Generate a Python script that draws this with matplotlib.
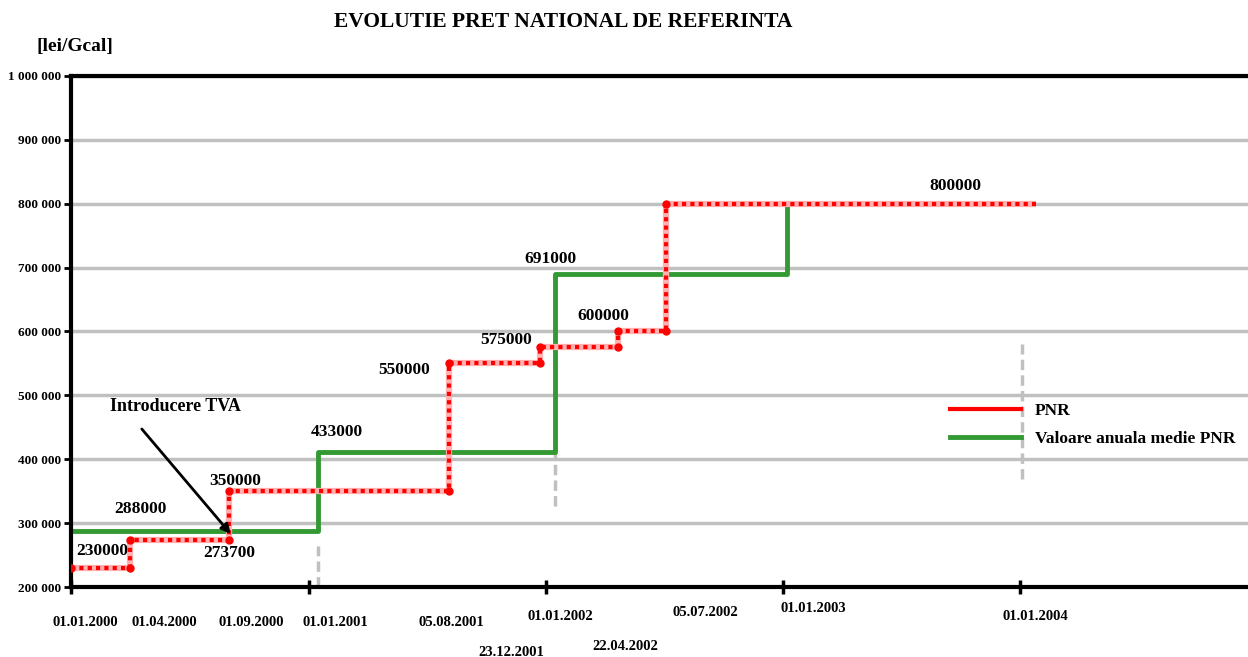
#!/usr/bin/env python3
from datetime import date

import matplotlib
import matplotlib.pyplot as plt
import matplotlib.dates as mdates
from matplotlib.ticker import FuncFormatter, MultipleLocator
from matplotlib.transforms import blended_transform_factory

matplotlib.use("Agg")

# PNR steps (red)
RED_DATES = [date(2000, 1, 1), date(2000, 4, 1), date(2000, 9, 1), date(2001, 8, 5),
             date(2001, 12, 23), date(2002, 4, 22), date(2002, 7, 5)]
RED_END = date(2004, 1, 26)
RED_VALUES = [230000, 273700, 350000, 550000, 575000, 600000, 800000]
RED_LABELS = ["230000", "273700", "350000", "550000", "575000", "600000", "800000"]

# annual mean PNR (green)
GREEN_DATES = [date(2000, 1, 1), date(2001, 1, 15), date(2002, 1, 15), date(2003, 1, 7)]
GREEN_END = date(2004, 1, 4)
GREEN_VALUES = [288000, 412000, 690000, 800000]
GREEN_LABELS = ["288000", "433000", "691000", None]

# grey dashed drop lines
GREY_DATES = [date(2001, 1, 15), date(2002, 1, 15), date(2004, 1, 4)]
GREY_LOW = [200000, 327000, 369000]
GREY_HIGH = [264000, 411000, 580000]

# date captions under the axis
DATE_LABELS = ["01.01.2000", "01.04.2000", "01.09.2000", "01.01.2001", "05.08.2001",
               "01.01.2002", "23.12.2001", "22.04.2002", "05.07.2002", "01.01.2003",
               "01.01.2004"]
DATE_POS = [date(2000, 1, 1), date(2000, 4, 1), date(2000, 9, 1), date(2001, 1, 1),
            date(2001, 8, 5), date(2002, 1, 1), date(2001, 12, 23), date(2002, 4, 22),
            date(2002, 7, 5), date(2003, 1, 1), date(2004, 1, 1)]

# layout: pixel offsets for the text pieces
RED_OFFSETS = [(31, 17), (99, -13), (6, 10), (-45, -7), (-34, 7), (-15, 15), (289, 18)]
GREEN_OFFSETS = [(69, 22), (19, 20), (-4, 15), None]
DATE_OFFSETS = [(14, -35), (34, -35), (22, -35), (27, -35), (2, -35), (15, -30),
                (-29, -65), (7, -60), (39, -26), (30, -21), (15, -30)]

W, H = 1248, 657
SERIF = ["Liberation Serif", "DejaVu Serif"]


def step_vertices(dates, values, end):
    xs, ys = [], []
    bounds = list(dates[1:]) + [end]
    for d0, d1, v in zip(dates, bounds, values):
        xs += [d0, d1]
        ys += [v, v]
    return xs, ys


def main():
    plt.rcParams["font.family"] = SERIF
    plt.rcParams["font.weight"] = "bold"

    fig = plt.figure(figsize=(W / 100, H / 100), dpi=100)
    ax = fig.add_axes([71 / W, (H - 587) / H, (W - 71) / W, (587 - 76) / H])

    # grey drop lines
    ax.vlines(GREY_DATES, GREY_LOW, GREY_HIGH, colors="#c0c0c0", linewidth=2.5,
              linestyles=(0, (3, 1.5)), zorder=1.5)

    gx, gy = step_vertices(GREEN_DATES, GREEN_VALUES, GREEN_END)
    ax.plot(gx, gy, color="#339933", linewidth=3.5, zorder=2,
            label="Valoare anuala medie PNR")

    rx, ry = step_vertices(RED_DATES, RED_VALUES, RED_END)
    ax.plot(rx, ry, color="#ffb0b0", linewidth=4.5, zorder=3, solid_capstyle="butt")
    ax.plot(rx, ry, color="red", linewidth=3, linestyle=(0, (1, 1)), zorder=3,
            marker="o", markersize=5, markevery=list(range(len(rx) - 1)))
    ax.plot([], [], color="red", linewidth=3, label="PNR")

    # value labels
    for d, v, txt, off in zip(RED_DATES, RED_VALUES, RED_LABELS, RED_OFFSETS):
        ax.annotate(txt, xy=(mdates.date2num(d), v), xytext=off,
                    textcoords="offset pixels", ha="center", va="center",
                    fontsize=12.5, fontweight="bold")
    for d, v, txt, off in zip(GREEN_DATES, GREEN_VALUES, GREEN_LABELS, GREEN_OFFSETS):
        if txt is None:
            continue
        ax.annotate(txt, xy=(mdates.date2num(d), v), xytext=off,
                    textcoords="offset pixels", ha="center", va="center",
                    fontsize=12.5, fontweight="bold")

    # TVA annotation
    tip = (mdates.date2num(date(2000, 9, 3)), 283000)
    ax.annotate("", xy=tip, xytext=(-89, 105), textcoords="offset pixels",
                arrowprops=dict(arrowstyle="-|>", color="black", lw=2,
                                mutation_scale=14, shrinkA=0, shrinkB=0), zorder=5)
    ax.annotate("Introducere TVA", xy=tip, xytext=(-55, 127),
                textcoords="offset pixels", ha="center", va="center",
                fontsize=13, fontweight="bold")

    # date captions
    trans = blended_transform_factory(ax.transData, ax.transAxes)
    for d, txt, off in zip(DATE_POS, DATE_LABELS, DATE_OFFSETS):
        ax.annotate(txt, xy=(mdates.date2num(d), 0), xycoords=trans, xytext=off,
                    textcoords="offset pixels", ha="center", va="center",
                    fontsize=10.5, fontweight="bold", annotation_clip=False)

    ax.set_xlim(date(2000, 1, 1), date(2004, 12, 17))
    ax.set_ylim(200000, 1000000)
    ax.xaxis.set_major_locator(mdates.YearLocator())
    ax.xaxis.set_major_formatter(FuncFormatter(lambda v, p: ""))
    ax.yaxis.set_major_locator(MultipleLocator(100000))
    ax.yaxis.set_major_formatter(
        FuncFormatter(lambda v, p: f"{v:,.0f}".replace(",", " ")))
    ax.tick_params(axis="x", direction="inout", length=10, width=2.5)
    ax.tick_params(axis="y", direction="out", length=5, width=2, labelsize=9.5, pad=2)

    ax.yaxis.grid(True, color="#c0c0c0", linewidth=2.5)
    ax.set_axisbelow(True)
    for side in ("left", "top", "bottom"):
        ax.spines[side].set_linewidth(3)
        ax.spines[side].set_color("black")
    ax.spines["right"].set_visible(False)

    handles, labels = ax.get_legend_handles_labels()
    order = [labels.index("PNR"), labels.index("Valoare anuala medie PNR")]
    ax.legend([handles[i] for i in order], [labels[i] for i in order],
              loc="upper left", bbox_to_anchor=((950 - 71) / (W - 71), (587 - 403) / 511),
              frameon=False, fontsize=12.5, handlelength=4.1, handletextpad=0.8,
              labelspacing=0.65, borderpad=0, borderaxespad=0)

    fig.text(563 / W, 1 - 22 / H, "EVOLUTIE PRET NATIONAL DE REFERINTA",
             ha="center", va="center", fontsize=15.5, fontweight="bold")
    fig.text(75 / W, 1 - 47 / H, "[lei/Gcal]", ha="center", va="center",
             fontsize=14, fontweight="bold")

    fig.savefig("out.png", dpi=100)


if __name__ == "__main__":
    main()
